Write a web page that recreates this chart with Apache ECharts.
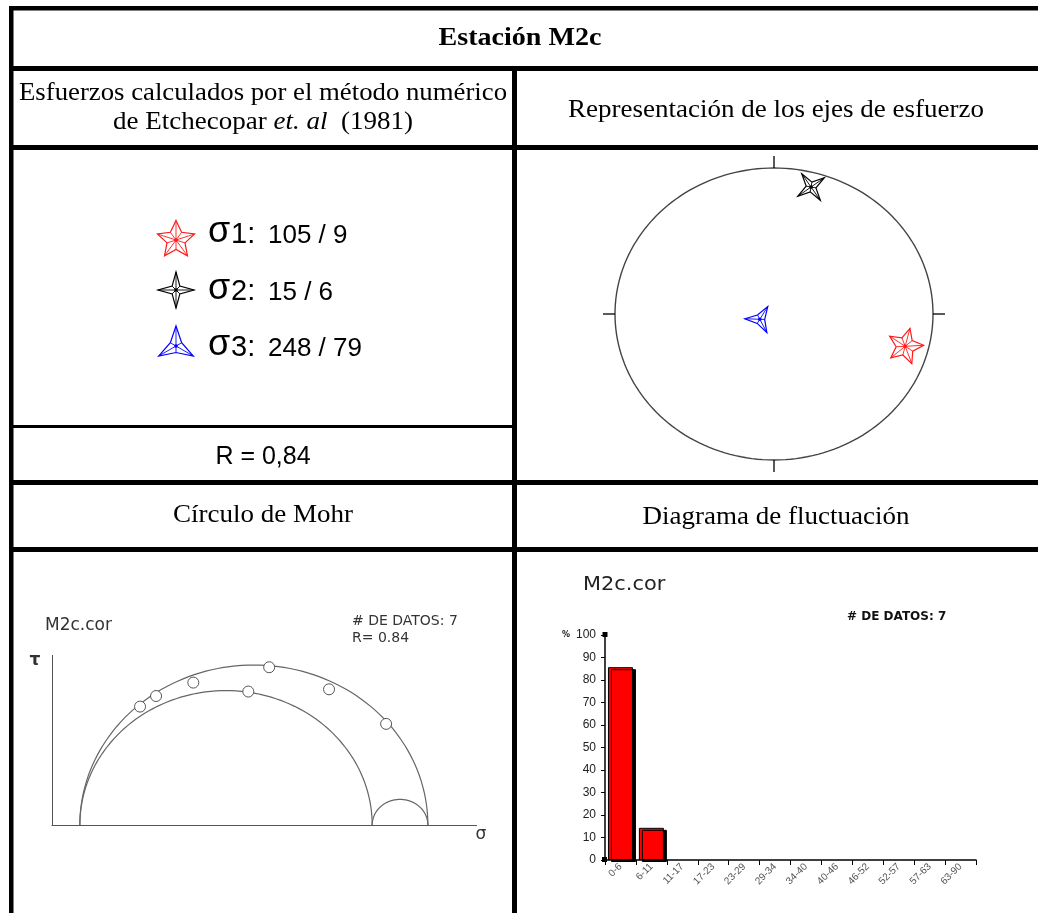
<!DOCTYPE html>
<html>
<head>
<meta charset="utf-8">
<script src="https://cdn.jsdelivr.net/npm/echarts@6/dist/echarts.min.js"></script>
<style>
  html, body { margin: 0; padding: 0; background: #fff; }
  #main { width: 1038px; height: 913px; }
</style>
</head>
<body>
<div id="main"></div>
<script>
// ---- Station results (Etchecopar inversion) ----
const station = 'M2c';
const axisNames = ['σ1', 'σ2', 'σ3'];
const trends = [105, 15, 248];      // azimuth of each principal axis (deg)
const plunges = [9, 6, 79];         // plunge of each principal axis (deg)
const ratioR = 0.84;                // (σ2-σ3)/(σ1-σ3)
const dataCount = 7;

// ---- Mohr diagram (normalised stresses) ----
const sigma3 = 0.08;
const sigma1 = 1.08;
const mohrSigmaN = [0.253, 0.299, 0.406, 0.624, 0.564, 0.796, 0.960];
const mohrTau = [0.370, 0.403, 0.445, 0.493, 0.417, 0.424, 0.316];

// ---- Fluctuation histogram ----
const binLabels = ['0-6', '6-11', '11-17', '17-23', '23-29', '29-34', '34-40', '40-46', '46-52', '52-57', '57-63', '63-90'];
const binPercent = [85.7, 14.3, 0, 0, 0, 0, 0, 0, 0, 0, 0, 0];
const histMin = 0, histMax = 100, histStep = 10;

// ---- layout ----
const SERIF = '"Liberation Serif", "Times New Roman", serif';
const SANS = '"Liberation Sans", Arial, sans-serif';
const VERD = '"DejaVu Sans", Verdana, sans-serif';
const gStereo = { left: 615, top: 168, width: 318, height: 292 };
const gMohr = { left: 52, top: 655.4, width: 424.6, height: 169.6 };
const gHist = { left: 605, top: 635, width: 371, height: 225 };
const mohrXMax = 1.22, mohrYMax = 0.53;

// star glyph styles for σ1, σ2, σ3
const starStyles = [
  { n: 5, outer: 19.5, inner: 9.5, color: '#ff1a1a' },
  { n: 4, outer: 18, inner: 5.5, color: '#000000' },
  { n: 3, outer: 20, inner: 6.5, color: '#0000ff' }
];
const stereoRot = [15, -35, 32];
const stereoScale = [0.95, 0.9, 0.75];

function starElements(cx, cy, st, rotDeg, scale) {
  const pts = [];
  for (let i = 0; i < 2 * st.n; i++) {
    const a = (rotDeg + i * 180 / st.n) * Math.PI / 180;
    const r = (i % 2 === 0 ? st.outer : st.inner) * scale;
    pts.push([cx + r * Math.sin(a), cy - r * Math.cos(a)]);
  }
  const els = [{
    type: 'polygon', shape: { points: pts },
    style: { fill: 'none', stroke: st.color, lineWidth: 1.2 }
  }];
  pts.forEach(function (p) {
    els.push({
      type: 'line', shape: { x1: cx, y1: cy, x2: p[0], y2: p[1] },
      style: { stroke: st.color, lineWidth: 0.9 }
    });
  });
  els.push({ type: 'circle', shape: { cx: cx, cy: cy, r: 1.8 }, style: { fill: st.color } });
  return els;
}

// lower-hemisphere stereographic (Wulff) projection
const stereoPoints = trends.map(function (t, i) {
  const r = Math.tan((90 - plunges[i]) / 2 * Math.PI / 180);
  const a = t * Math.PI / 180;
  return [r * Math.sin(a), r * Math.cos(a), i];
});

const sigma2 = sigma3 + ratioR * (sigma1 - sigma3);
const mohrCircles = [
  [(sigma1 + sigma3) / 2, (sigma1 - sigma3) / 2],
  [(sigma2 + sigma3) / 2, (sigma2 - sigma3) / 2],
  [(sigma1 + sigma2) / 2, (sigma1 - sigma2) / 2]
];

// ---- table frame and text ----
const graphics = [];
function bar(x, y, w, h) {
  graphics.push({ type: 'rect', shape: { x: x, y: y, width: w, height: h }, style: { fill: '#000' }, silent: true });
}
bar(9, 6, 1040, 4.5);      // top edge
bar(9, 6, 4.5, 920);       // left edge
bar(9, 66, 1040, 5);       // under title
bar(512, 66, 5, 860);      // centre divider
bar(9, 145, 1040, 5);      // under sub-headers
bar(9, 425, 505, 3);       // above R value
bar(9, 480, 1040, 5);      // under stress block
bar(9, 547, 1040, 5);      // under panel names

function txt(x, y, text, font, opt) {
  opt = opt || {};
  graphics.push({
    type: 'text', x: x, y: y, silent: true,
    scaleX: opt.sx || 1,
    style: {
      text: text, font: font, fill: opt.fill || '#000',
      textAlign: opt.align || 'center', align: opt.align || 'center',
      textVerticalAlign: 'middle', verticalAlign: 'middle',
      rich: opt.rich
    }
  });
}
txt(520, 38, 'Estación ' + station, 'bold 26px ' + SERIF, { sx: 1.08 });
txt(263, 93, 'Esfuerzos calculados por el método numérico', '25px ' + SERIF, { sx: 1.07 });
txt(263, 122, '{n|de Etchecopar }{i|et. al}{n|  (1981)}', '25px ' + SERIF, {
  sx: 1.08,
  rich: {
    n: { fontFamily: SERIF, fontSize: 25, fill: '#000' },
    i: { fontFamily: SERIF, fontSize: 25, fontStyle: 'italic', fill: '#000' }
  }
});
txt(776, 110, 'Representación de los ejes de esfuerzo', '25px ' + SERIF, { sx: 1.08 });
txt(263, 515, 'Círculo de Mohr', '25px ' + SERIF, { sx: 1.08 });
txt(776, 517, 'Diagrama de fluctuación', '25px ' + SERIF, { sx: 1.08 });

// legend rows
const legendY = [245, 301.7, 358];
const legendStarY = [240, 290, 346];
axisNames.forEach(function (nm, i) {
  graphics.push({ type: 'group', silent: true, children: starElements(176, legendStarY[i], starStyles[i], 0, 1) });
  const base = legendY[i];
  txt(208, base - 12.6, nm.charAt(0), '36px ' + SANS, { align: 'left' });
  txt(231, base - 10.2, nm.charAt(1) + ':', '29px ' + SANS, { align: 'left' });
  txt(268, base - 8.8, trends[i] + ' / ' + plunges[i], '25px ' + SANS, { align: 'left', sx: 1.04 });
});
txt(263, 457, 'R = ' + ratioR.toFixed(2).replace('.', ','), '25px ' + SANS);

// Mohr panel labels
txt(45, 625.5, station + '.cor', '17px ' + VERD, { align: 'left', fill: '#333' });
txt(352, 621, '# DE DATOS: ' + dataCount, '14px ' + VERD, { align: 'left', fill: '#333' });
txt(352, 638, 'R= ' + ratioR.toFixed(2), '14px ' + VERD, { align: 'left', fill: '#333' });
txt(35, 661, 'τ', 'bold 17px ' + VERD, { fill: '#333' });
txt(481, 835, 'σ', '17px ' + VERD, { fill: '#333' });

// histogram panel labels
txt(583, 585, station + '.cor', '19px ' + VERD, { align: 'left', fill: '#222', sx: 1.1 });
txt(847, 617, '# DE DATOS: ' + dataCount, 'bold 12px ' + VERD, { align: 'left', fill: '#111' });
txt(566, 635, '%', 'bold 8px ' + VERD, { fill: '#111' });
// small square markers at the ends of the histogram value axis
graphics.push({ type: 'rect', silent: true, shape: { x: gHist.left - 2.5, y: gHist.top - 3, width: 5, height: 5 }, style: { fill: '#000' } });
graphics.push({ type: 'rect', silent: true, shape: { x: gHist.left - 3, y: gHist.top + gHist.height - 3, width: 5, height: 5 }, style: { fill: '#000' } });

const chart = echarts.init(document.getElementById('main'), null, { renderer: 'canvas' });

const hiddenAxis = function (idx, min, max) {
  return { type: 'value', gridIndex: idx, min: min, max: max, show: false };
};

chart.setOption({
  animation: false,
  backgroundColor: '#fff',
  textStyle: { fontFamily: SANS },
  grid: [
    Object.assign({ containLabel: false }, gStereo),
    Object.assign({ containLabel: false }, gMohr),
    Object.assign({ containLabel: false }, gHist)
  ],
  xAxis: [
    hiddenAxis(0, -1, 1),
    {
      type: 'value', gridIndex: 1, min: 0, max: mohrXMax,
      axisLine: { show: true, onZero: false, lineStyle: { color: '#555', width: 1 } },
      axisTick: { show: false }, axisLabel: { show: false }, splitLine: { show: false }
    },
    {
      type: 'category', gridIndex: 2, data: binLabels, boundaryGap: true,
      axisLine: { show: true, onZero: false, lineStyle: { color: '#000', width: 1.5 } },
      axisTick: { show: true, length: 5, interval: 0, lineStyle: { color: '#000', width: 1 } },
      axisLabel: { interval: 0, rotate: 45, fontSize: 10, color: '#555', margin: 5, fontFamily: SANS },
      splitLine: { show: false }
    }
  ],
  yAxis: [
    hiddenAxis(0, -1, 1),
    {
      type: 'value', gridIndex: 1, min: 0, max: mohrYMax,
      axisLine: { show: true, onZero: false, lineStyle: { color: '#555', width: 1 } },
      axisTick: { show: false }, axisLabel: { show: false }, splitLine: { show: false }
    },
    {
      type: 'value', gridIndex: 2, min: histMin, max: histMax, interval: histStep,
      axisLine: { show: true, onZero: false, lineStyle: { color: '#000', width: 1.5 } },
      axisTick: { show: true, length: 4, lineStyle: { color: '#000', width: 1 } },
      axisLabel: { fontSize: 12, color: '#222', margin: 9, fontFamily: SANS },
      splitLine: { show: false }
    }
  ],
  graphic: { elements: graphics },
  series: [
    {
      // primitive circle and N/E/S/W ticks of the stereonet
      type: 'custom', xAxisIndex: 0, yAxisIndex: 0, silent: true, clip: false,
      data: [[0, 0, 1]],
      renderItem: function (params, api) {
        const c0 = api.value(0), c1 = api.value(1), r = api.value(2);
        const pts = [];
        for (let d = 0; d <= 360; d += 2) {
          const a = d * Math.PI / 180;
          pts.push(api.coord([c0 + r * Math.cos(a), c1 + r * Math.sin(a)]));
        }
        const N = api.coord([c0, c1 + r]), S = api.coord([c0, c1 - r]);
        const E = api.coord([c0 + r, c1]), W = api.coord([c0 - r, c1]);
        const tk = 12, ls = { stroke: '#000', lineWidth: 1.3 };
        return {
          type: 'group',
          children: [
            { type: 'polyline', shape: { points: pts }, style: { fill: 'none', stroke: '#444', lineWidth: 1.4 } },
            { type: 'line', shape: { x1: N[0], y1: N[1], x2: N[0], y2: N[1] - tk }, style: ls },
            { type: 'line', shape: { x1: S[0], y1: S[1], x2: S[0], y2: S[1] + tk }, style: ls },
            { type: 'line', shape: { x1: E[0], y1: E[1], x2: E[0] + tk, y2: E[1] }, style: ls },
            { type: 'line', shape: { x1: W[0], y1: W[1], x2: W[0] - tk, y2: W[1] }, style: ls }
          ]
        };
      }
    },
    {
      // principal stress axes
      type: 'custom', xAxisIndex: 0, yAxisIndex: 0, silent: true, clip: false,
      data: stereoPoints,
      renderItem: function (params, api) {
        const p = api.coord([api.value(0), api.value(1)]);
        const i = api.value(2);
        return { type: 'group', children: starElements(p[0], p[1], starStyles[i], stereoRot[i], stereoScale[i]) };
      }
    },
    {
      // Mohr circles
      type: 'custom', xAxisIndex: 1, yAxisIndex: 1, silent: true, clip: false,
      data: mohrCircles,
      renderItem: function (params, api) {
        const c = api.value(0), r = api.value(1);
        const pts = [];
        for (let d = 0; d <= 180; d += 2) {
          const a = d * Math.PI / 180;
          pts.push(api.coord([c + r * Math.cos(a), r * Math.sin(a)]));
        }
        return { type: 'polyline', shape: { points: pts }, style: { fill: 'none', stroke: '#666', lineWidth: 1.2 } };
      }
    },
    {
      type: 'scatter', xAxisIndex: 1, yAxisIndex: 1, silent: true,
      symbol: 'circle', symbolSize: 11,
      itemStyle: { color: '#fff', borderColor: '#555', borderWidth: 1, opacity: 1 },
      data: mohrSigmaN.map(function (s, i) { return [s, mohrTau[i]]; }),
      z: 5
    },
    {
      type: 'bar', xAxisIndex: 2, yAxisIndex: 2, silent: true, barWidth: 25,
      itemStyle: { color: '#ff0000', borderColor: '#000', borderWidth: 1, shadowColor: '#000', shadowOffsetX: 3, shadowOffsetY: 2, shadowBlur: 0 },
      data: binPercent.map(function (v) {
        return v > 0 ? v : { value: v, itemStyle: { borderWidth: 0, shadowColor: 'rgba(0,0,0,0)' } };
      })
    }
  ]
});
</script>
</body>
</html>
